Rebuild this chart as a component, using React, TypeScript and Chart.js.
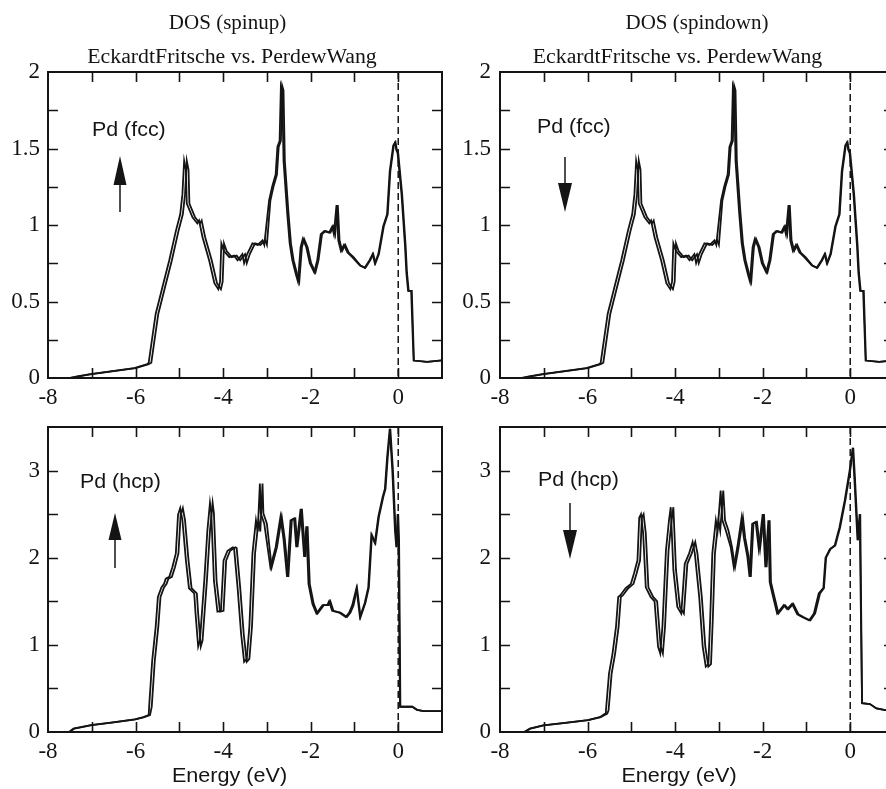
import React, { useEffect, useRef } from "react";
import { Chart, registerables } from "chart.js";

Chart.register(...registerables);

// ---------- axes ----------
const xTickLabels = [-8, -6, -4, -2, 0];
const xMinorTicks = [-7, -6, -5, -4, -3, -2, -1, 0];
const fccYTickLabels = [0, 0.5, 1, 1.5, 2];
const fccYMinorTicks = [0.25, 0.5, 0.75, 1, 1.25, 1.5, 1.75];
const hcpYTickLabels = [0, 1, 2, 3];
const hcpYMinorTicks = [0.5, 1, 1.5, 2, 2.5, 3];

// ---------- Pd (fcc): spin up and spin down are the same ----------
const fccEnergyEF = [
  -7.47, -7.3, -7.0, -6.5, -6.0, -5.7, -5.64, -5.6, -5.48, -5.4,
  -5.33, -5.17, -5.02, -4.92, -4.87, -4.83, -4.79, -4.77, -4.64, -4.53,
  -4.49, -4.41, -4.26, -4.14, -4.05, -4.01, -3.98, -3.92, -3.8, -3.69,
  -3.61, -3.5, -3.46, -3.39, -3.27, -3.15, -3.04, -3.0, -2.92, -2.85,
  -2.77, -2.73, -2.68, -2.65, -2.62, -2.59, -2.51, -2.45, -2.39, -2.31,
  -2.26, -2.2, -2.15, -2.07, -1.99, -1.89, -1.82, -1.74, -1.66, -1.55,
  -1.48, -1.44, -1.38, -1.34, -1.28, -1.21, -1.13, -1.02, -0.86, -0.75,
  -0.64, -0.57, -0.52, -0.44, -0.33, -0.24, -0.18, -0.1, -0.06, -0.03,
  0.0, 0.09, 0.17, 0.2, 0.24, 0.31, 0.36, 0.66, 1.0,
];
const fccEnergyPW = [
  -7.5, -7.33, -7.03, -6.53, -6.03, -5.73, -5.7, -5.66, -5.54, -5.46,
  -5.39, -5.23, -5.08, -4.98, -4.93, -4.89, -4.85, -4.83, -4.7, -4.59,
  -4.55, -4.47, -4.32, -4.2, -4.11, -4.07, -4.04, -3.98, -3.86, -3.75,
  -3.67, -3.56, -3.52, -3.45, -3.33, -3.21, -3.1, -3.06, -2.95, -2.88,
  -2.8, -2.76, -2.71, -2.68, -2.65, -2.62, -2.54, -2.48, -2.42, -2.34,
  -2.29, -2.23, -2.18, -2.1, -2.02, -1.92, -1.85, -1.77, -1.69, -1.58,
  -1.51, -1.47, -1.41, -1.37, -1.31, -1.24, -1.16, -1.05, -0.875, -0.765,
  -0.655, -0.585, -0.535, -0.455, -0.345, -0.255, -0.195, -0.115, -0.075, -0.045,
  -0.015, 0.075, 0.155, 0.185, 0.225, 0.295, 0.35, 0.66, 1.0,
];
const fccDos = [
  0, 0.01, 0.025, 0.045, 0.065, 0.09, 0.1, 0.18, 0.42, 0.51,
  0.59, 0.77, 0.96, 1.07, 1.2, 1.42, 1.36, 1.14, 1.05, 1.01,
  1.03, 0.92, 0.77, 0.62, 0.58, 0.63, 0.88, 0.83, 0.79, 0.8,
  0.77, 0.81, 0.75, 0.81, 0.88, 0.87, 0.9, 0.87, 1.16, 1.25,
  1.33, 1.51, 1.55, 1.91, 1.88, 1.42, 1.09, 0.88, 0.77, 0.68,
  0.63, 0.855, 0.91, 0.855, 0.75, 0.69, 0.77, 0.94, 0.96, 0.95,
  0.99, 0.94, 1.13, 0.9, 0.83, 0.87, 0.82, 0.79, 0.735, 0.72,
  0.77, 0.81, 0.75, 0.81, 0.99, 1.07, 1.35, 1.52, 1.54, 1.49,
  1.47, 1.2, 0.86, 0.69, 0.57, 0.57, 0.114, 0.105, 0.115,
];

// ---------- Pd (hcp), spin up ----------
const hcpUpEnergyEF = [
  -7.5, -7.4, -7.0, -6.5, -6.0, -5.8, -5.67, -5.63, -5.56, -5.48,
  -5.43, -5.35, -5.29, -5.25, -5.17, -5.1, -5.02, -4.97, -4.92, -4.87,
  -4.79, -4.72, -4.6, -4.57, -4.51, -4.47, -4.37, -4.3, -4.24, -4.21,
  -4.15, -4.07, -3.99, -3.93, -3.84, -3.72, -3.69, -3.61, -3.53, -3.46,
  -3.4, -3.34, -3.27, -3.19, -3.15, -3.1, -3.08, -3.0, -2.89, -2.77,
  -2.66, -2.59, -2.51, -2.43, -2.35, -2.3, -2.2, -2.12, -2.07, -2.02,
  -1.93, -1.84, -1.7, -1.59, -1.55, -1.48, -1.32, -1.17, -1.09, -1.02,
  -0.94, -0.86, -0.75, -0.67, -0.6, -0.52, -0.44, -0.34, -0.29, -0.24,
  -0.18, -0.12, -0.06, -0.03, 0.0, 0.02, 0.05, 0.32, 0.43, 0.58,
  1.0,
];
const hcpUpEnergyPW = [
  -7.52, -7.42, -7.02, -6.52, -6.02, -5.82, -5.7, -5.69, -5.62, -5.54,
  -5.49, -5.41, -5.35, -5.31, -5.23, -5.16, -5.08, -5.03, -4.98, -4.93,
  -4.85, -4.78, -4.66, -4.63, -4.57, -4.53, -4.43, -4.36, -4.3, -4.27,
  -4.21, -4.13, -4.05, -3.99, -3.9, -3.78, -3.75, -3.67, -3.59, -3.52,
  -3.46, -3.4, -3.33, -3.25, -3.21, -3.16, -3.14, -3.06, -2.92, -2.8,
  -2.69, -2.62, -2.54, -2.46, -2.38, -2.33, -2.23, -2.15, -2.1, -2.05,
  -1.96, -1.87, -1.73, -1.62, -1.58, -1.51, -1.35, -1.2, -1.12, -1.05,
  -0.955, -0.875, -0.765, -0.685, -0.615, -0.535, -0.455, -0.355, -0.305, -0.255,
  -0.195, -0.135, -0.075, -0.045, -0.015, 0.005, 0.04, 0.32, 0.43, 0.58,
  1.0,
];
const hcpUpDos = [
  0, 0.04, 0.08, 0.11, 0.145, 0.17, 0.195, 0.29, 0.82, 1.21,
  1.55, 1.66, 1.7, 1.76, 1.78, 1.89, 2.05, 2.49, 2.57, 2.43,
  1.97, 1.65, 1.59, 1.36, 0.98, 1.05, 1.74, 2.31, 2.63, 2.51,
  1.74, 1.38, 1.39, 1.97, 2.08, 2.12, 2.11, 1.66, 1.13, 0.805,
  0.84, 1.21, 2.05, 2.43, 2.3, 2.85, 2.51, 2.39, 1.89, 2.12,
  2.47, 2.21, 1.78, 2.43, 2.45, 2.12, 2.56, 2.01, 2.36, 1.7,
  1.47, 1.36, 1.455, 1.455, 1.5, 1.39, 1.37, 1.32, 1.37, 1.455,
  1.65, 1.32, 1.48, 1.66, 2.26, 2.17, 2.47, 2.7, 2.79, 3.15,
  3.48, 3.0, 2.31, 2.12, 2.5, 2.2, 0.29, 0.29, 0.255, 0.24,
  0.24,
];

// ---------- Pd (hcp), spin down ----------
const hcpDownEnergyEF = [
  -7.43, -7.3, -7.0, -6.5, -5.98, -5.7, -5.55, -5.52, -5.45, -5.37,
  -5.29, -5.24, -5.19, -5.07, -4.95, -4.88, -4.8, -4.76, -4.72, -4.67,
  -4.61, -4.5, -4.41, -4.33, -4.28, -4.23, -4.15, -4.08, -4.04, -3.98,
  -3.89, -3.8, -3.72, -3.62, -3.54, -3.49, -3.39, -3.31, -3.24, -3.18,
  -3.14, -3.09, -3.01, -2.97, -2.9, -2.86, -2.78, -2.7, -2.63, -2.55,
  -2.45, -2.4, -2.32, -2.27, -2.21, -2.13, -2.06, -1.97, -1.91, -1.84,
  -1.81, -1.75, -1.64, -1.49, -1.41, -1.3, -1.18, -1.07, -0.91, -0.8,
  -0.69, -0.6, -0.55, -0.45, -0.34, -0.23, -0.11, 0.0, 0.07, 0.11,
  0.18, 0.23, 0.27, 0.45, 0.6, 0.8, 1.0,
];
const hcpDownEnergyPW = [
  -7.45, -7.32, -7.02, -6.52, -6.0, -5.72, -5.6, -5.58, -5.51, -5.43,
  -5.35, -5.3, -5.25, -5.13, -5.01, -4.94, -4.86, -4.82, -4.78, -4.73,
  -4.67, -4.56, -4.47, -4.39, -4.34, -4.29, -4.21, -4.14, -4.1, -4.04,
  -3.95, -3.86, -3.78, -3.68, -3.6, -3.55, -3.45, -3.37, -3.3, -3.24,
  -3.2, -3.15, -3.07, -3.03, -2.96, -2.92, -2.84, -2.73, -2.66, -2.58,
  -2.48, -2.43, -2.35, -2.3, -2.24, -2.16, -2.09, -2.0, -1.94, -1.87,
  -1.84, -1.78, -1.67, -1.52, -1.44, -1.33, -1.21, -1.1, -0.94, -0.83,
  -0.72, -0.615, -0.565, -0.465, -0.355, -0.245, -0.125, -0.015, 0.055, 0.095,
  0.165, 0.215, 0.27, 0.45, 0.6, 0.8, 1.0,
];
const hcpDownDos = [
  0, 0.04, 0.075, 0.105, 0.137, 0.17, 0.21, 0.25, 0.67, 0.9,
  1.21, 1.55, 1.57, 1.65, 1.7, 1.82, 1.97, 2.46, 2.5, 2.28,
  1.66, 1.55, 1.5, 0.98, 0.9, 1.21, 2.08, 2.43, 2.58, 1.86,
  1.435, 1.36, 1.93, 2.05, 2.18, 2.05, 1.55, 0.98, 0.75, 0.78,
  1.28, 2.05, 2.43, 2.31, 2.77, 2.43, 2.31, 2.12, 1.89, 2.12,
  2.46, 2.23, 2.01, 1.78, 2.39, 2.41, 2.1, 2.5, 1.89, 2.43,
  1.72, 1.59, 1.36, 1.455, 1.41, 1.47, 1.35, 1.32, 1.28, 1.36,
  1.59, 1.65, 2.0, 2.1, 2.14, 2.35, 2.66, 3.0, 3.26, 2.9,
  2.2, 2.5, 0.33, 0.32, 0.27, 0.25, 0.25,
];

const seriesNames = ["EckardtFritsche", "PerdewWang"];

// ---------- drawing helpers ----------
const SERIF = "'Liberation Serif', 'Times New Roman', serif";
const SANS = "'Liberation Sans', Arial, Helvetica, sans-serif";
const INK = "#141414";

type TextSpec = { text: string; x: number; y: number; align: "left" | "center"; font: string; sx: number };
type ArrowSpec = { x: number; tail: number; base: number; tip: number; half: number };
type Decor = { texts: TextSpec[]; arrow: ArrowSpec; yMinor: number[] };

function drawStretchedText(ctx: CanvasRenderingContext2D, t: TextSpec) {
  ctx.save();
  ctx.font = t.font;
  ctx.fillStyle = INK;
  ctx.textAlign = "left";
  ctx.textBaseline = "alphabetic";
  const w = ctx.measureText(t.text).width * t.sx;
  const left = t.align === "center" ? t.x - w / 2 : t.x;
  ctx.translate(left, t.y);
  ctx.scale(t.sx, 1);
  ctx.fillText(t.text, 0, 0);
  ctx.restore();
}

function makeDecorPlugin(decor: Decor) {
  return {
    id: "decor",
    afterDraw(chart: any) {
      const { ctx, chartArea: a, scales } = chart;
      const xs = scales.x;
      const ys = scales.y;
      ctx.save();
      // dashed Fermi level
      ctx.strokeStyle = INK;
      ctx.lineWidth = 1.5;
      ctx.setLineDash([7, 4]);
      const x0 = xs.getPixelForValue(0);
      ctx.beginPath();
      ctx.moveTo(x0, a.top);
      ctx.lineTo(x0, a.bottom);
      ctx.stroke();
      ctx.setLineDash([]);
      // inward ticks
      const TL = 10;
      ctx.lineWidth = 1.6;
      ctx.beginPath();
      for (const v of xMinorTicks) {
        const px = Math.round(xs.getPixelForValue(v)) + 0.5;
        ctx.moveTo(px, a.bottom);
        ctx.lineTo(px, a.bottom - TL);
        ctx.moveTo(px, a.top);
        ctx.lineTo(px, a.top + TL);
      }
      for (const v of decor.yMinor) {
        const py = Math.round(ys.getPixelForValue(v)) + 0.5;
        ctx.moveTo(a.left, py);
        ctx.lineTo(a.left + TL, py);
        ctx.moveTo(a.right, py);
        ctx.lineTo(a.right - TL, py);
      }
      ctx.stroke();
      // frame
      ctx.lineWidth = 2;
      ctx.strokeRect(a.left, a.top, a.right - a.left, a.bottom - a.top);
      // arrow
      const ar = decor.arrow;
      ctx.lineWidth = 1.5;
      ctx.beginPath();
      ctx.moveTo(ar.x, ar.tail);
      ctx.lineTo(ar.x, ar.base);
      ctx.stroke();
      ctx.fillStyle = INK;
      ctx.beginPath();
      ctx.moveTo(ar.x - ar.half, ar.base);
      ctx.lineTo(ar.x + ar.half, ar.base);
      ctx.lineTo(ar.x, ar.tip);
      ctx.closePath();
      ctx.fill();
      ctx.restore();
      for (const t of decor.texts) drawStretchedText(ctx, t);
    },
  };
}

type PanelProps = {
  left: number;
  top: number;
  width: number;
  height: number;
  padding: { left: number; top: number; right: number; bottom: number };
  yAxisWidth: number;
  yPad: number;
  yMax: number;
  yTicks: number[];
  energies: number[][];
  dos: number[];
  decor: Decor;
};

function Panel(p: PanelProps) {
  const ref = useRef<HTMLCanvasElement>(null);
  useEffect(() => {
    if (!ref.current) return;
    const tickFont = { family: SERIF, size: 23 };
    const chart = new Chart(ref.current, {
      type: "line",
      data: {
        datasets: p.energies.map((en, k) => ({
          label: seriesNames[k],
          data: en.map((e, i) => ({ x: e, y: p.dos[i] })),
          borderColor: INK,
          borderWidth: 1.8,
          pointRadius: 0,
          fill: false,
          tension: 0,
        })),
      },
      options: {
        responsive: false,
        maintainAspectRatio: false,
        animation: false,
        layout: { padding: p.padding },
        plugins: {
          legend: { display: false },
          tooltip: { enabled: false },
          title: { display: false },
        },
        scales: {
          x: {
            type: "linear",
            min: -8,
            max: 1,
            afterBuildTicks: (s: any) => {
              s.ticks = xTickLabels.map((v) => ({ value: v }));
            },
            afterFit: (s: any) => {
              s.height = 34;
            },
            grid: { display: false, drawTicks: false },
            border: { display: false },
            ticks: {
              font: tickFont,
              color: INK,
              padding: 6,
              maxRotation: 0,
              autoSkip: false,
              callback: (v: any) => String(v),
            },
          },
          y: {
            type: "linear",
            min: 0,
            max: p.yMax,
            afterBuildTicks: (s: any) => {
              s.ticks = p.yTicks.map((v) => ({ value: v }));
            },
            afterFit: (s: any) => {
              s.width = p.yAxisWidth;
            },
            grid: { display: false, drawTicks: false },
            border: { display: false },
            ticks: {
              font: tickFont,
              color: INK,
              padding: p.yPad,
              autoSkip: false,
              callback: (v: any) => String(v),
            },
          },
        },
      } as any,
      plugins: [makeDecorPlugin(p.decor)],
    });
    return () => chart.destroy();
  }, []);
  return (
    <canvas
      ref={ref}
      width={p.width}
      height={p.height}
      style={{ position: "absolute", left: p.left, top: p.top, width: p.width, height: p.height }}
    />
  );
}

const titleFont = `21px ${SERIF}`;
const subFont = `20px ${SERIF}`;
const labelFont = `20px ${SANS}`;

export default function App() {
  return (
    <div
      style={{
        position: "fixed",
        left: 0,
        top: 0,
        width: 886,
        height: 789,
        overflow: "hidden",
        background: "#fff",
      }}
    >
      <Panel
        left={0}
        top={0}
        width={455}
        height={415}
        padding={{ left: 0, top: 72, right: 13, bottom: 3 }}
        yAxisWidth={48}
        yPad={8}
        yMax={2}
        yTicks={fccYTickLabels}
        energies={[fccEnergyEF, fccEnergyPW]}
        dos={fccDos}
        decor={{
          yMinor: fccYMinorTicks,
          texts: [
            { text: "DOS (spinup)", x: 227.5, y: 29, align: "center", font: titleFont, sx: 1 },
            { text: "EckardtFritsche vs. PerdewWang", x: 232, y: 63, align: "center", font: subFont, sx: 1.09 },
            { text: "Pd (fcc)", x: 92, y: 136, align: "left", font: labelFont, sx: 1.07 },
          ],
          arrow: { x: 120, tail: 212, base: 185, tip: 156, half: 6.5 },
        }}
      />
      <Panel
        left={450}
        top={0}
        width={460}
        height={415}
        padding={{ left: 0, top: 72, right: 16, bottom: 3 }}
        yAxisWidth={50}
        yPad={9}
        yMax={2}
        yTicks={fccYTickLabels}
        energies={[fccEnergyEF, fccEnergyPW]}
        dos={fccDos}
        decor={{
          yMinor: fccYMinorTicks,
          texts: [
            { text: "DOS (spindown)", x: 247, y: 29, align: "center", font: titleFont, sx: 1 },
            { text: "EckardtFritsche vs. PerdewWang", x: 227.5, y: 63, align: "center", font: subFont, sx: 1.09 },
            { text: "Pd (fcc)", x: 87, y: 133, align: "left", font: labelFont, sx: 1.07 },
          ],
          arrow: { x: 115, tail: 157, base: 183, tip: 212, half: 7 },
        }}
      />
      <Panel
        left={0}
        top={400}
        width={455}
        height={389}
        padding={{ left: 0, top: 27, right: 13, bottom: 23 }}
        yAxisWidth={48}
        yPad={8}
        yMax={3.5}
        yTicks={hcpYTickLabels}
        energies={[hcpUpEnergyEF, hcpUpEnergyPW]}
        dos={hcpUpDos}
        decor={{
          yMinor: hcpYMinorTicks,
          texts: [
            { text: "Pd (hcp)", x: 80, y: 87.5, align: "left", font: labelFont, sx: 1.07 },
            { text: "Energy (eV)", x: 229.5, y: 382, align: "center", font: labelFont, sx: 1.08 },
          ],
          arrow: { x: 115, tail: 168, base: 140, tip: 113, half: 6.5 },
        }}
      />
      <Panel
        left={450}
        top={400}
        width={460}
        height={389}
        padding={{ left: 0, top: 27, right: 16, bottom: 23 }}
        yAxisWidth={50}
        yPad={9}
        yMax={3.5}
        yTicks={hcpYTickLabels}
        energies={[hcpDownEnergyEF, hcpDownEnergyPW]}
        dos={hcpDownDos}
        decor={{
          yMinor: hcpYMinorTicks,
          texts: [
            { text: "Pd (hcp)", x: 88, y: 86, align: "left", font: labelFont, sx: 1.07 },
            { text: "Energy (eV)", x: 229, y: 382, align: "center", font: labelFont, sx: 1.08 },
          ],
          arrow: { x: 120, tail: 103, base: 130, tip: 159, half: 7 },
        }}
      />
    </div>
  );
}
